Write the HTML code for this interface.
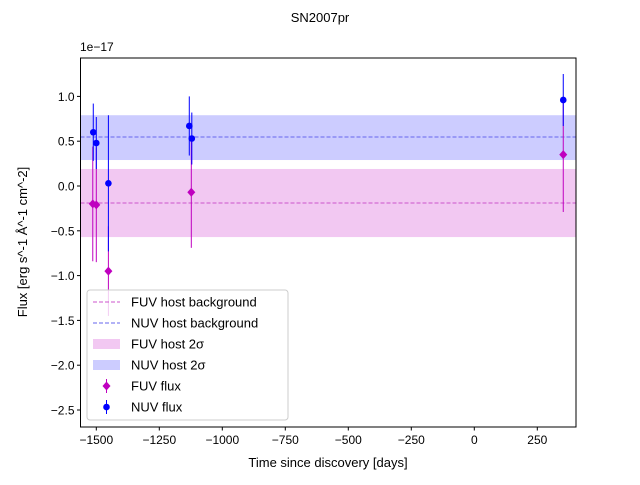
<!DOCTYPE html>
<html><head><meta charset="utf-8"><style>
body{margin:0;background:#fff}
svg text{font-family:"Liberation Sans","DejaVu Sans",sans-serif;fill:#000}
</style></head><body>
<svg id="c" width="640" height="480" xmlns="http://www.w3.org/2000/svg"></svg>
<script>
const xTicks=[-1500,-1250,-1000,-750,-500,-250,0,250];
const yTicks=[1.0,0.5,0.0,-0.5,-1.0,-1.5,-2.0,-2.5];
const yTickLabels=["1.0","0.5","0.0","−0.5","−1.0","−1.5","−2.0","−2.5"];
const nuvDays=[-1512,-1500,-1452,-1131,-1121,353];
const nuvFlux=[0.60,0.48,0.03,0.67,0.53,0.96];
const nuvErr=[0.32,0.29,0.76,0.33,0.29,0.29];
const fuvDays=[-1514,-1500,-1452,-1123,353];
const fuvFlux=[-0.20,-0.21,-0.95,-0.07,0.35];
const fuvErr=[0.64,0.64,0.5,0.62,0.64];
const nuvBg=[0.547,0.29,0.79];
const fuvBg=[-0.19,-0.57,0.19];
const L=80.5,R=576,T=58,B=427;
const sx=v=>474.3+(v)*0.252;
const sy=v=>186-v*89.6;
const svg=document.getElementById('c');
const NS="http://www.w3.org/2000/svg";
function el(t,a,p){const e=document.createElementNS(NS,t);for(const k in a)e.setAttribute(k,a[k]);(p||svg).appendChild(e);return e;}
let t=el('text',{x:320,y:22,'font-size':13,'text-anchor':'middle'});t.textContent='SN2007pr';

// bands
let b=el('rect',{x:L,y:sy(nuvBg[2]),width:R-L,height:sy(nuvBg[1])-sy(nuvBg[2]),fill:'#0000ff',opacity:0.2});

b=el('rect',{x:L,y:sy(fuvBg[2]),width:R-L,height:sy(fuvBg[1])-sy(fuvBg[2]),fill:'#cc22cc',opacity:0.25});

let l=el('line',{x1:L,x2:R,y1:sy(nuvBg[0]),y2:sy(nuvBg[0]),stroke:'#6666ee','stroke-dasharray':'4,2','stroke-width':1});

l=el('line',{x1:L,x2:R,y1:sy(fuvBg[0]),y2:sy(fuvBg[0]),stroke:'#cc55cc','stroke-dasharray':'4,2','stroke-width':1});

// FUV
fuvDays.forEach((d,i)=>{const x=sx(d),y=sy(fuvFlux[i]);
const g=el('g',{});
el('line',{x1:x,x2:x,y1:sy(fuvFlux[i]+fuvErr[i]),y2:sy(fuvFlux[i]-fuvErr[i]),stroke:'#bf00bf','stroke-width':1},g);
el('polygon',{points:`${x},${y-4.5} ${x+4},${y} ${x},${y+4.5} ${x-4},${y}`,fill:'#bf00bf'},g);});
// NUV
nuvDays.forEach((d,i)=>{const x=sx(d),y=sy(nuvFlux[i]);
const g=el('g',{});
el('line',{x1:x,x2:x,y1:sy(nuvFlux[i]+nuvErr[i]),y2:sy(nuvFlux[i]-nuvErr[i]),stroke:'#0000ff','stroke-width':1},g);
el('circle',{cx:x,cy:y,r:3.3,fill:'#0000ff'},g);});
// axes
let ax=el('rect',{x:L,y:T,width:R-L,height:B-T,fill:'none',stroke:'#000','stroke-width':1});

xTicks.forEach(v=>{const x=sx(v);el('line',{x1:x,x2:x,y1:B,y2:B+3.5,stroke:'#000'});
const tx=el('text',{x:x,y:B+17,'font-size':12,'text-anchor':'middle'});tx.textContent=v<0?'−'+(-v):String(v);
});
yTicks.forEach((v,i)=>{const y=sy(v);el('line',{x1:L-3.5,x2:L,y1:y,y2:y,stroke:'#000'});
const tx=el('text',{x:L-6,y:y+4.5,'font-size':12,'text-anchor':'end'});tx.textContent=yTickLabels[i];
});
t=el('text',{x:80,y:51,'font-size':12});t.textContent='1e−17';

t=el('text',{x:328,y:467,'font-size':13,'text-anchor':'middle'});t.textContent='Time since discovery [days]';

t=el('text',{x:0,y:0,'font-size':13,'text-anchor':'middle',transform:'translate(27,242) rotate(-90)'});t.textContent='Flux [erg s^-1 Å^-1 cm^-2]';

// legend
const lg=el('g',{});
el('rect',{x:87,y:290,width:201,height:130,rx:3,fill:'#fff','fill-opacity':0.8,stroke:'#ccc'},lg);
const items=['FUV host background','NUV host background','FUV host 2σ','NUV host 2σ','FUV flux','NUV flux'];
items.forEach((s,i)=>{const y=302+i*21;
const e=el('g',{},lg);
if(i==0)el('line',{x1:93,x2:120,y1:y,y2:y,stroke:'#cc55cc','stroke-dasharray':'4,2'},e);
if(i==1)el('line',{x1:93,x2:120,y1:y,y2:y,stroke:'#6666ee','stroke-dasharray':'4,2'},e);
if(i==2)el('rect',{x:93,y:y-5,width:27,height:10,fill:'#cc22cc',opacity:0.25},e);
if(i==3)el('rect',{x:93,y:y-5,width:27,height:10,fill:'#0000ff',opacity:0.2},e);
if(i==4){el('line',{x1:106.5,x2:106.5,y1:y-7,y2:y+7,stroke:'#bf00bf'},e);el('polygon',{points:`106.5,${y-4.5} 110.5,${y} 106.5,${y+4.5} 102.5,${y}`,fill:'#bf00bf'},e);}
if(i==5){el('line',{x1:106.5,x2:106.5,y1:y-7,y2:y+7,stroke:'#0000ff'},e);el('circle',{cx:106.5,cy:y,r:3.3,fill:'#0000ff'},e);}
const tx=el('text',{x:131,y:y+4.5,'font-size':13},e);tx.textContent=s;});
</script>
</body></html>
